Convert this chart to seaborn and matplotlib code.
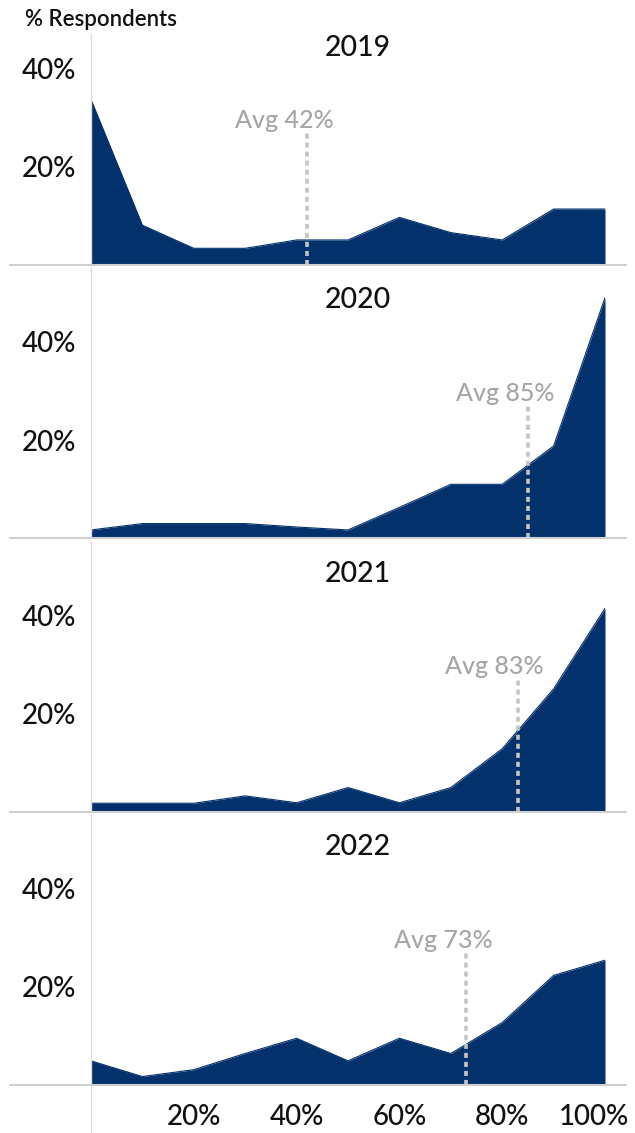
import matplotlib.pyplot as plt
import matplotlib.transforms as mtransforms
import seaborn as sns

# x positions (% of ...) and share of respondents per year
x_pct = [0, 10, 20, 30, 40, 50, 60, 70, 80, 90, 100]
years = ['2019', '2020', '2021', '2022']
share_2019 = [33.7, 8.1, 3.4, 3.4, 5.1, 5.1, 9.7, 6.6, 5.1, 11.4, 11.4]
share_2020 = [1.7, 3.0, 3.0, 3.0, 2.3, 1.7, 6.3, 11.0, 11.0, 18.8, 49.0]
share_2021 = [1.7, 1.7, 1.7, 3.2, 1.8, 4.9, 1.8, 4.9, 12.8, 25.0, 41.4]
share_2022 = [4.9, 1.7, 3.1, 6.4, 9.5, 4.9, 9.5, 6.4, 12.7, 22.3, 25.4]
avg_pct = [42, 85, 83, 73]

sns.set_theme(style='white')
plt.rcParams['font.family'] = ['Lato', 'DejaVu Sans']
plt.rcParams['font.weight'] = 'medium'

W, H = 635, 1133
navy = '#03316c'
grey_txt = '#a6a6a6'

fig = plt.figure(figsize=(W / 100, H / 100), dpi=100)
fig.text(25 / W, 1 - 20 / H, '% Respondents', fontsize=16, fontweight='semibold',
         va='center', color='#111111')

all_shares = [share_2019, share_2020, share_2021, share_2022]
for i, (year, vals, avg) in enumerate(zip(years, all_shares, avg_pct)):
    base = 265 + 273.3 * i
    ax = fig.add_axes([91 / W, 1 - base / H, 514 / W, 270 / H])
    ax.set_facecolor('none')

    sns.lineplot(x=x_pct, y=vals, ax=ax, color=navy, lw=0.8)
    ax.fill_between(x_pct, vals, color=navy, lw=0)
    ax.set_xlim(0, 100)
    ax.set_ylim(0, 55)

    # average marker
    ax.plot([avg, avg], [0, 27], color='#c4c4c4', lw=2.6, ls=(0, (1.4, 1.1)), zorder=5)
    ax.annotate(f'Avg {avg}%', xy=(avg, 29.5), xytext=(-16.5, 0), textcoords='offset points',
                ha='center', va='center', fontsize=18, color=grey_txt)

    title_y = 44.3 if i == 0 else 48.5
    ax.text(52, title_y, year, ha='center', va='center', fontsize=20.5, color='#111111')

    ax.axhline(0, xmin=-0.158, xmax=1.04, color='#cfcfcf', lw=1.5, clip_on=False, zorder=6)

    for s in ['top', 'right', 'bottom']:
        ax.spines[s].set_visible(False)
    ax.spines['left'].set_color('#dddddd')
    ax.spines['left'].set_linewidth(1)
    if i == 0:
        ax.spines['left'].set_bounds(0, 47)
    if i == 3:
        ax.axvline(0, ymin=-0.18, ymax=0, color='#dddddd', lw=1, clip_on=False)

    ax.set_yticks([20, 40])
    ax.set_yticklabels(['20%', '40%'])
    ax.tick_params(axis='y', length=0, pad=11, labelsize=20, labelcolor='#111111')
    if i == 3:
        ax.set_xticks([20, 40, 60, 80, 100])
        ax.set_xticklabels(['20%', '40%', '60%', '80%', '100%'])
        ax.tick_params(axis='x', length=0, pad=14, labelsize=20, labelcolor='#111111')
        last = ax.get_xticklabels()[-1]
        last.set_transform(last.get_transform()
                           + mtransforms.ScaledTranslation(-0.11, 0, fig.dpi_scale_trans))
    else:
        ax.set_xticks([])
    ax.set_xlabel('')
    ax.set_ylabel('')

fig.savefig('out.png', dpi=100)
